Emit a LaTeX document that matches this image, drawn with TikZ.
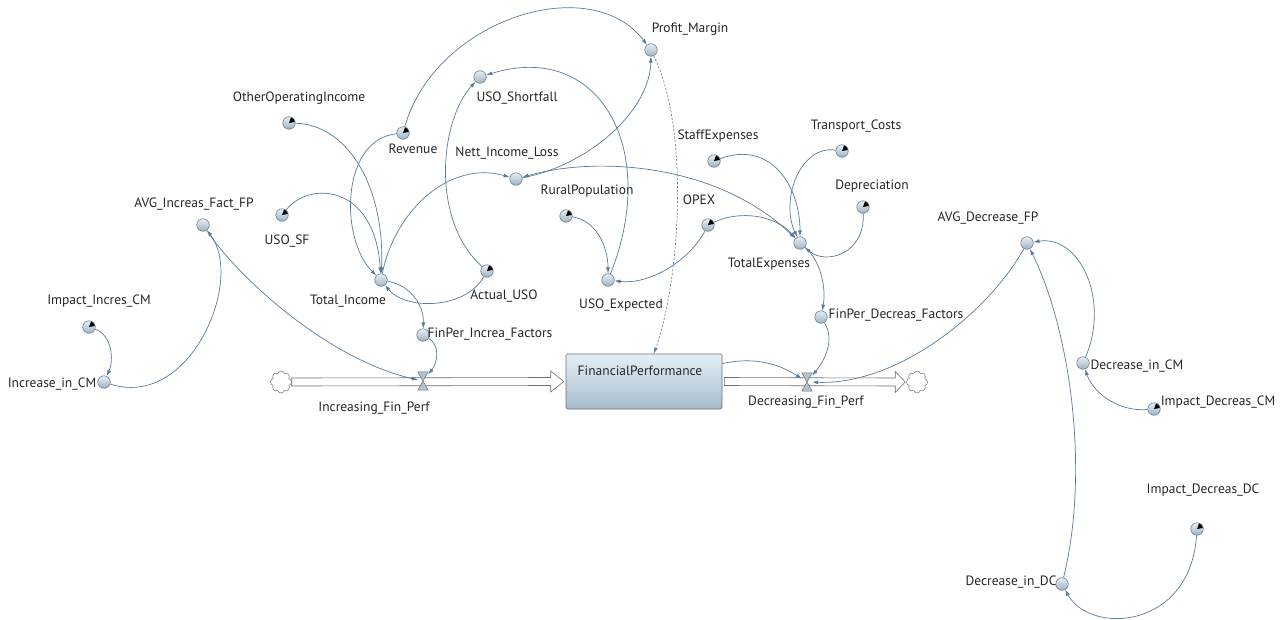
\documentclass[tikz,border=0pt]{standalone}
\usepackage{fontspec}
\setmainfont{PT Sans}
\usetikzlibrary{arrows.meta,shapes.symbols}
\definecolor{linkblue}{HTML}{587C9B}
\definecolor{circedge}{HTML}{6A7B8C}
\definecolor{circtop}{HTML}{E8EFF5}
\definecolor{circbot}{HTML}{9EB2C4}
\definecolor{stocktop}{HTML}{E4F0F9}
\definecolor{stockbot}{HTML}{A7BCCB}
\definecolor{pipegray}{HTML}{6E6E6E}
\definecolor{valvefill}{HTML}{AFC3D3}
\definecolor{labeltext}{HTML}{262626}
\begin{document}
\begin{tikzpicture}[x=1pt,y=-1pt,
  font=\fontsize{13.5}{16}\selectfont,
  var/.style={circle, draw=circedge, line width=0.6pt, top color=circtop, bottom color=circbot,
    minimum size=12.5pt, inner sep=0pt},
  constvar/.style={var, path picture={\fill[black] (path picture bounding box.center) -- ++(10:8pt) arc (10:70:8pt) -- cycle;}},
  lbl/.style={text=labeltext, inner sep=0pt},
  link/.style={draw=linkblue, line width=0.7pt, -{Latex[length=6pt,width=4pt]}},
  dlink/.style={draw=linkblue, line width=0.6pt, dash pattern=on 2.2pt off 1.6pt, -{Latex[length=6pt,width=4pt]}},
  stockbox/.style={rectangle, rounded corners=1.5pt, draw=pipegray, line width=0.6pt,
    top color=stocktop, bottom color=stockbot, minimum width=156pt, minimum height=55pt, inner sep=0pt},
  pipe/.style={draw=pipegray, fill=white, line width=0.6pt},
  valve/.style={rectangle, minimum width=10pt, minimum height=18pt, inner sep=0pt},
  sink/.style={cloud, cloud puffs=8, aspect=1, draw=pipegray, line width=0.5pt, fill=white,
    minimum width=21pt, minimum height=22pt, inner sep=0pt}]

\useasboundingbox[fill=white] (0,0) rectangle (1288,619);

% ---------- stock, clouds and flow pipes ----------
\node[stockbox] (fp) at (644,381.5) {};
\node[lbl] (fptext) at (640,371) {FinancialPerformance};
\node[sink] (cloudL) at (281,382) {};
\node[sink] (cloudR) at (917,382) {};

\draw[pipe] ([yshift=4pt]cloudL.east) -- ([xshift=-15pt,yshift=4pt]fp.west)
  -- ([xshift=-15pt,yshift=10.5pt]fp.west) -- ([xshift=-2pt]fp.west)
  -- ([xshift=-15pt,yshift=-10.5pt]fp.west) -- ([xshift=-15pt,yshift=-4pt]fp.west)
  -- ([yshift=-4pt]cloudL.east) -- cycle;
\draw[pipe] ([xshift=2pt,yshift=4pt]fp.east) -- ([xshift=-11pt,yshift=4pt]cloudR.west)
  -- ([xshift=-11pt,yshift=10.5pt]cloudR.west) -- ([xshift=-1pt]cloudR.west)
  -- ([xshift=-11pt,yshift=-10.5pt]cloudR.west) -- ([xshift=-11pt,yshift=-4pt]cloudR.west)
  -- ([xshift=2pt,yshift=-4pt]fp.east) -- cycle;

\node[valve] (vin) at (423,381) {};
\node[valve] (vdec) at (807,382) {};
\foreach \v in {vin,vdec}
  \filldraw[fill=valvefill, draw=pipegray, line width=0.5pt]
    (\v.north west) -- (\v.north east) -- (\v.south west) -- (\v.south east) -- cycle;
\node[lbl] (vinlbl) at (374,408) {Increasing\_Fin\_Perf};
\node[lbl] (vdeclbl) at (806,402) {Decreasing\_Fin\_Perf};

% ---------- auxiliaries and constants ----------
\node[var] (pm) at (651,50) {};
\node[lbl] (pmlbl) at (690,29) {Profit\_Margin};
\node[var] (usosh) at (480,77) {};
\node[lbl] (usoshlbl) at (517,98) {USO\_Shortfall};
\node[constvar] (ooi) at (289,123) {};
\node[lbl] (ooilbl) at (299,98) {OtherOperatingIncome};
\node[constvar] (rev) at (403,133) {};
\node[lbl] (revlbl) at (413,149) {Revenue};
\node[var] (nil) at (516,179) {};
\node[lbl] (nillbl) at (507,153) {Nett\_Income\_Loss};
\node[constvar] (se) at (714,161) {};
\node[lbl] (selbl) at (718,136) {StaffExpenses};
\node[constvar] (tc) at (842,151) {};
\node[lbl] (tclbl) at (856,126) {Transport\_Costs};
\node[constvar] (dep) at (863,207) {};
\node[lbl] (deplbl) at (872,186) {Depreciation};
\node[constvar] (rp) at (566,216) {};
\node[lbl] (rplbl) at (587,191) {RuralPopulation};
\node[constvar] (opex) at (708,225) {};
\node[lbl] (opexlbl) at (699,200) {OPEX};
\node[var] (te) at (800,243) {};
\node[lbl] (telbl) at (769,264) {TotalExpenses};
\node[var] (avgi) at (203,225) {};
\node[lbl] (avgilbl) at (194,204) {AVG\_Increas\_Fact\_FP};
\node[constvar] (usosf) at (282,215) {};
\node[lbl] (usosflbl) at (287,241) {USO\_SF};
\node[var] (ti) at (381,280) {};
\node[lbl] (tilbl) at (348,301) {Total\_Income};
\node[constvar] (auso) at (487,271) {};
\node[lbl] (ausolbl) at (504,296) {Actual\_USO};
\node[var] (usoex) at (608,280) {};
\node[lbl] (usoexlbl) at (621,305) {USO\_Expected};
\node[var] (avgd) at (1027,243) {};
\node[lbl] (avgdlbl) at (988,218) {AVG\_Decrease\_FP};
\node[constvar] (iicm) at (89,327) {};
\node[lbl] (iicmlbl) at (99,301) {Impact\_Incres\_CM};
\node[var] (icm) at (104,382) {};
\node[lbl] (icmlbl) at (52,384) {Increase\_in\_CM};
\node[var] (fif) at (423,335) {};
\node[lbl] (fiflbl) at (490,334) {FinPer\_Increa\_Factors};
\node[var] (fdf) at (821,317) {};
\node[lbl] (fdflbl) at (896,315) {FinPer\_Decreas\_Factors};
\node[var] (dcm) at (1083,363) {};
\node[lbl] (dcmlbl) at (1137,366) {Decrease\_in\_CM};
\node[constvar] (idcm) at (1154,409) {};
\node[lbl] (idcmlbl) at (1218,402) {Impact\_Decreas\_CM};
\node[constvar] (iddc) at (1197,529) {};
\node[lbl] (iddclbl) at (1203,490) {Impact\_Decreas\_DC};
\node[var] (ddc) at (1062,584) {};
\node[lbl] (ddclbl) at (1011,582) {Decrease\_in\_DC};

% ---------- causal links ----------
\draw[link] (rev) .. controls (435,20) and (590,-30) .. (pm);
\draw[dlink] (pm) .. controls (690,130) and (680,280) .. (fp);
\draw[link] (nil) .. controls (590,165) and (650,110) .. (pm);
\draw[link, {Latex[length=6pt,width=4pt]}-{Latex[length=6pt,width=4pt]}] (nil) .. controls (600,155) and (720,165) .. (te);
\draw[link] (ti) .. controls (395,210) and (450,160) .. (nil);
\draw[link] (rev) .. controls (340,140) and (340,240) .. (ti);
\draw[link] (ooi) .. controls (350,125) and (385,190) .. (ti);
\draw[link] (usosf) .. controls (310,180) and (375,185) .. (ti);
\draw[link] (auso) .. controls (465,310) and (405,310) .. (ti);
\draw[link] (auso) .. controls (430,220) and (440,120) .. (usosh);
\draw[link] (usoex) .. controls (660,150) and (600,40) .. (usosh);
\draw[link] (rp) .. controls (595,220) and (608,245) .. (usoex);
\draw[link] (opex) .. controls (690,260) and (650,285) .. (usoex);
\draw[link] (opex) .. controls (740,210) and (775,215) .. (te);
\draw[link] (se) .. controls (770,140) and (800,185) .. (te);
\draw[link] (tc) .. controls (800,145) and (780,200) .. (te);
\draw[link] (dep) .. controls (865,255) and (825,265) .. (te);
\draw[link] (te) .. controls (822,262) and (826,290) .. (fdf);
\draw[link] (fdf) .. controls (835,340) and (825,360) .. (vdec);
\draw[link] (fp) .. controls (760,355) and (785,368) .. (vdec);
\draw[link] (avgd) .. controls (990,310) and (900,385) .. (vdec);
\draw[link] (dcm) .. controls (1110,300) and (1080,235) .. (avgd);
\draw[link] (idcm) .. controls (1115,412) and (1092,390) .. (dcm);
\draw[link] (ddc) .. controls (1090,470) and (1070,330) .. (avgd);
\draw[link] (iddc) .. controls (1190,630) and (1090,635) .. (ddc);
\draw[link] (iicm) .. controls (112,335) and (114,360) .. (icm);
\draw[link] (icm) .. controls (190,410) and (245,280) .. (avgi);
\draw[link] (avgi) .. controls (240,280) and (330,360) .. (vin);
\draw[link] (fif) .. controls (440,345) and (438,362) .. (vin);
\draw[link] (ti) .. controls (410,285) and (424,305) .. (fif);
\end{tikzpicture}
\end{document}
